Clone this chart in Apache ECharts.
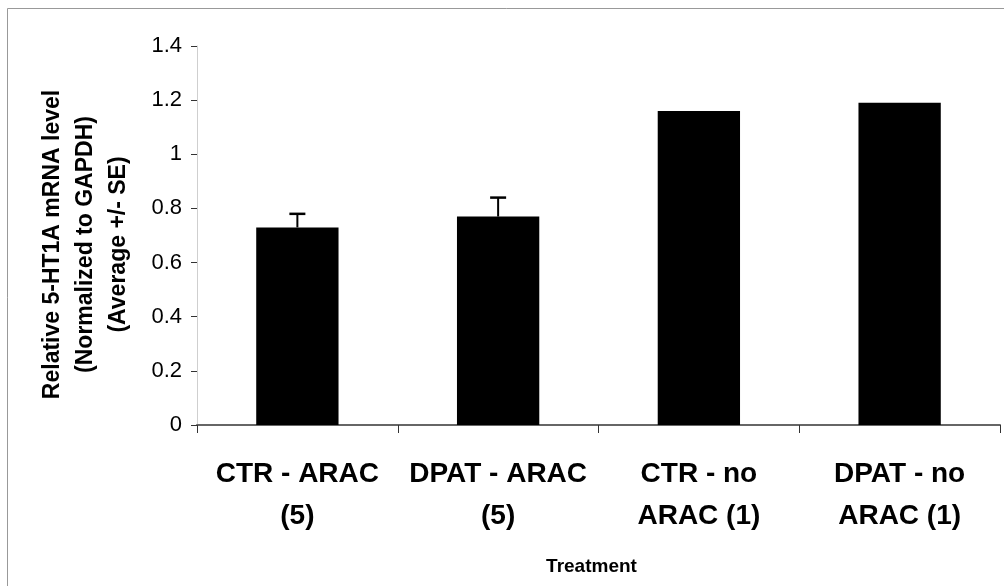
<!DOCTYPE html>
<html>
<head>
<meta charset="utf-8">
<script src="https://cdn.jsdelivr.net/npm/echarts@6/dist/echarts.min.js"></script>
<style>
html,body{margin:0;padding:0;background:#fff;}
#chart{width:1004px;height:586px;}
</style>
</head>
<body>
<div id="chart"></div>
<script>
var categories = ['CTR - ARAC\n(5)', 'DPAT - ARAC\n(5)', 'CTR - no\nARAC (1)', 'DPAT - no\nARAC (1)'];
var means = [0.73, 0.77, 1.16, 1.19];
var errors = [0.05, 0.07, 0, 0];
var yTicks = [0, 0.2, 0.4, 0.6, 0.8, 1, 1.2, 1.4];
var yTitle = 'Relative 5-HT1A mRNA level\n(Normalized to GAPDH)\n(Average +/- SE)';
var xTitle = 'Treatment';

var FONT = '"Liberation Sans", Arial, Helvetica, sans-serif';
var chart = echarts.init(document.getElementById('chart'), null, {renderer: 'canvas'});

var errData = [];
for (var i = 0; i < means.length; i++) {
  if (errors[i] > 0) errData.push([i, means[i], means[i] + errors[i]]);
}

chart.setOption({
  animation: false,
  backgroundColor: '#fff',
  graphic: [{
    type: 'rect', silent: true,
    shape: {x: 7.5, y: 8.5, width: 1010, height: 600},
    style: {fill: 'none', stroke: '#999', lineWidth: 1}
  }],
  grid: {left: 197, right: 4, top: 46, bottom: 161, containLabel: false},
  xAxis: {
    type: 'category',
    data: categories,
    boundaryGap: true,
    name: xTitle,
    nameLocation: 'middle',
    nameGap: 132,
    nameTextStyle: {fontFamily: FONT, fontWeight: 'bold', fontSize: 19, color: '#000', padding: [0, 14, 0, 0]},
    axisLine: {show: true, lineStyle: {color: '#666', width: 2}},
    axisTick: {show: true, inside: false, length: 8, alignWithLabel: false, lineStyle: {color: '#333', width: 1}},
    axisLabel: {margin: 28, fontFamily: FONT, fontWeight: 'bold', fontSize: 28, color: '#000', lineHeight: 42, interval: 0}
  },
  yAxis: {
    type: 'value',
    min: 0, max: 1.4, interval: 0.2,
    name: yTitle,
    nameLocation: 'middle',
    nameRotate: 90,
    nameGap: 62,
    nameTextStyle: {fontFamily: FONT, fontWeight: 'bold', fontSize: 23, color: '#000', lineHeight: 33, align: 'center', padding: [0, 18, 0, 0]},
    axisLine: {show: true, lineStyle: {color: '#cfcfcf', width: 1}},
    axisTick: {show: true, inside: false, length: 6, lineStyle: {color: '#333', width: 1}},
    splitLine: {show: false},
    axisLabel: {
      margin: 15, fontFamily: FONT, fontSize: 22, color: '#000',
      formatter: function (v) {
        for (var k = 0; k < yTicks.length; k++) {
          if (Math.abs(yTicks[k] - v) < 1e-6) return String(yTicks[k]);
        }
        return '';
      }
    }
  },
  series: [{
    type: 'bar',
    data: means,
    barWidth: '41%',
    itemStyle: {color: '#000'},
    z: 2
  }, {
    type: 'custom',
    data: errData,
    z: 3,
    renderItem: function (params, api) {
      var x = api.value(0);
      var base = api.coord([x, api.value(1)]);
      var top = api.coord([x, api.value(2)]);
      var hw = 8;
      return {
        type: 'group',
        children: [{
          type: 'line',
          shape: {x1: base[0], y1: base[1], x2: top[0], y2: top[1]},
          style: {stroke: '#000', lineWidth: 2}
        }, {
          type: 'line',
          shape: {x1: top[0] - hw, y1: top[1], x2: top[0] + hw, y2: top[1]},
          style: {stroke: '#000', lineWidth: 2.5}
        }]
      };
    }
  }]
});
</script>
</body>
</html>
